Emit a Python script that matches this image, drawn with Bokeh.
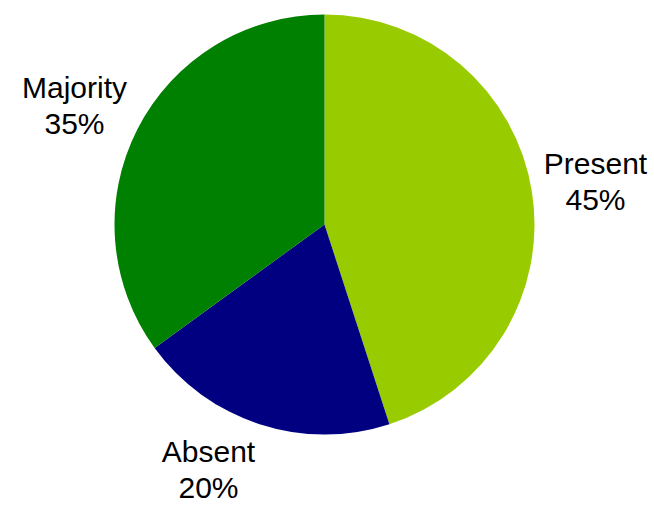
import math
from bokeh.plotting import figure
from bokeh.models import Range1d, ColumnDataSource
from bokeh.core.properties import value
from bokeh.embed import file_html
from bokeh.resources import INLINE

# data
categories = ["Present", "Absent", "Majority"]
shares = [45, 20, 35]
colors = ["#99CC00", "#000080", "#008000"]

# layout (image pixel coordinates)
W, H = 654, 505
CX, CY, R = 324, 224, 210
LABEL_POS = [(595, 163), (208, 451), (74, 87)]  # name baseline positions
LINE_GAP = 36
FONT = "Liberation Sans"
FSIZE = "30px"

total = float(sum(shares))
starts, ends = [], []
a = math.pi / 2
for s in shares:
    starts.append(a)
    a -= s / total * 2 * math.pi
    ends.append(a)

src = ColumnDataSource(dict(
    x=[CX] * len(shares), y=[-CY] * len(shares),
    start=starts, end=ends, color=colors,
))

p = figure(width=W, height=H, output_backend="svg", toolbar_location=None,
           x_range=Range1d(0, W), y_range=Range1d(-H, 0),
           min_border=0, outline_line_color=None)
p.axis.visible = False
p.grid.visible = False
p.background_fill_color = "white"
p.border_fill_color = "white"

p.wedge(x="x", y="y", radius=R, start_angle="start", end_angle="end",
        direction="clock", fill_color="color", line_color=None, source=src)

lab = ColumnDataSource(dict(
    x=[lp[0] for lp in LABEL_POS],
    y1=[-lp[1] for lp in LABEL_POS],
    y2=[-(lp[1] + LINE_GAP) for lp in LABEL_POS],
    name=categories,
    pct=["%d%%" % s for s in shares],
))
p.text(x="x", y="y1", text="name", source=lab, text_align="center",
       text_baseline="alphabetic", text_font=value(FONT), text_font_size=FSIZE,
       text_color="black")
p.text(x="x", y="y2", text="pct", source=lab, text_align="center",
       text_baseline="alphabetic", text_font=value(FONT), text_font_size=FSIZE,
       text_color="black")

open("out.html", "w").write(file_html(p, INLINE))
